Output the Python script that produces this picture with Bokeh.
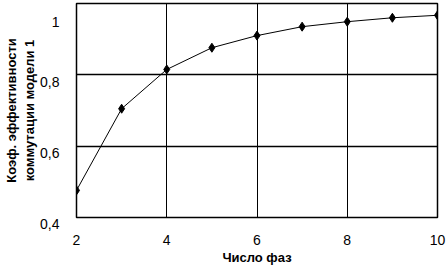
from bokeh.plotting import figure
from bokeh.models import FixedTicker, Range1d
from bokeh.embed import file_html
from bokeh.resources import INLINE

phases = [2, 3, 4, 5, 6, 7, 8, 9, 10]
efficiency = [0.476, 0.705, 0.815, 0.876, 0.910, 0.935, 0.949, 0.960, 0.967]
x_ticks = [2, 4, 6, 8, 10]
y_ticks = [0.4, 0.6, 0.8, 1.0]
y_tick_labels = ["0,4", "0,6", "0,8", "1"]
x_title = "Число фаз"
y_title = "Коэф. эффективности\nкоммутации модели 1"

p = figure(width=447, height=268, output_backend="svg", toolbar_location=None,
           x_range=Range1d(2, 10), y_range=Range1d(0.4, 1.0),
           min_border_left=76, min_border_right=10, min_border_top=3, min_border_bottom=51)
p.background_fill_color = "white"
p.border_fill_color = "white"
p.outline_line_color = "black"
p.outline_line_width = 1.5

p.line(phases, efficiency, line_color="black", line_width=1)
p.scatter(phases, efficiency, marker="diamond", size=9, fill_color="black", line_color="black")

p.xaxis.ticker = FixedTicker(ticks=x_ticks)
p.yaxis.ticker = FixedTicker(ticks=y_ticks)
# a blank first line puts each label just below its grid line, as in the original
p.yaxis.major_label_overrides = {t: "\n" + l for t, l in zip(y_ticks, y_tick_labels)}

for ax in (p.xaxis, p.yaxis):
    ax.axis_line_color = None
    ax.major_tick_line_color = None
    ax.minor_tick_line_color = None
    ax.major_tick_out = 0
    ax.major_tick_in = 0
    ax.minor_tick_out = 0
    ax.minor_tick_in = 0
    ax.major_label_text_font = "Liberation Sans"
    ax.major_label_text_font_size = "14px"
    ax.major_label_text_color = "black"
    ax.axis_label_text_font = "Liberation Sans"
    ax.axis_label_text_font_style = "bold"
    ax.axis_label_text_font_size = "13px"
    ax.axis_label_text_color = "black"

p.yaxis.major_label_text_line_height = 0.85
p.xaxis.major_label_standoff = 17
p.yaxis.major_label_standoff = 17
p.xaxis.axis_label = x_title
p.yaxis.axis_label = y_title
p.xaxis.axis_label_standoff = 2
p.yaxis.axis_label_standoff = 0

p.xgrid.grid_line_color = "black"
p.ygrid.grid_line_color = "black"
p.xgrid.grid_line_width = 1
p.ygrid.grid_line_width = 1.5

open("out.html", "w").write(file_html(p, INLINE))
